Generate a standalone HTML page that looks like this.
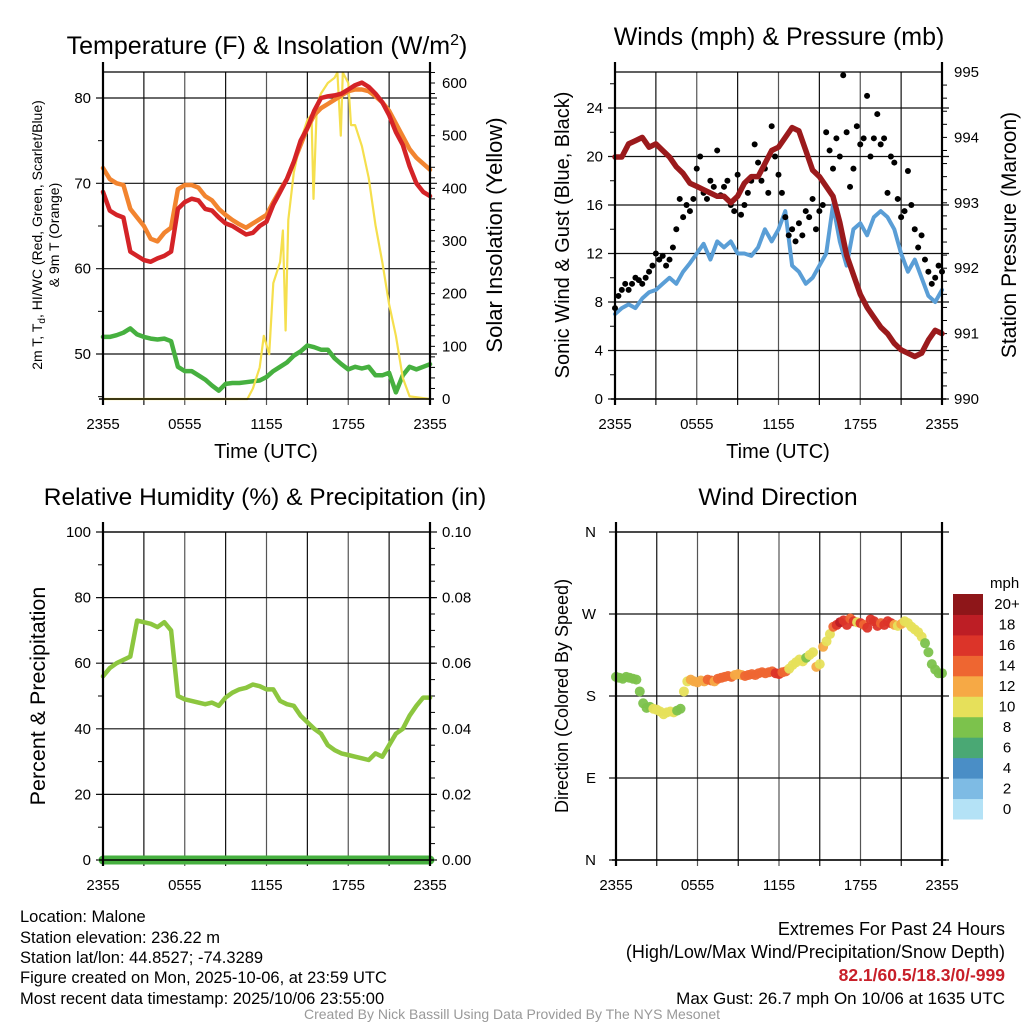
<!DOCTYPE html>
<html><head><meta charset="utf-8"><style>
html,body{margin:0;padding:0;background:#fff;}
svg{display:block;font-family:"Liberation Sans",sans-serif;}
</style></head><body>
<svg id="fig" width="1024" height="1024" viewBox="0 0 1024 1024">
<rect width="1024" height="1024" fill="#fff"/>
<text x="267" y="54" font-size="25" text-anchor="middle">Temperature (F) &amp; Insolation (W/m<tspan dy="-9" font-size="16">2</tspan><tspan dy="9">)</tspan></text>
<text x="779" y="45" font-size="25" text-anchor="middle">Winds (mph) &amp; Pressure (mb)</text>
<text x="265" y="505" font-size="24.5" text-anchor="middle">Relative Humidity (%) &amp; Precipitation (in)</text>
<text x="778" y="505" font-size="24.5" text-anchor="middle">Wind Direction</text>
<g font-size="14">
<text transform="translate(42,235) rotate(-90)" text-anchor="middle">2m T, T<tspan font-size="10" dy="3">d</tspan><tspan dy="-3">, HI/WC (Red, Green, Scarlet/Blue)</tspan></text>
<text transform="translate(59,235) rotate(-90)" text-anchor="middle">&amp; 9m T (Orange)</text>
</g>
<text transform="translate(502,235) rotate(-90)" font-size="22" text-anchor="middle">Solar Insolation (Yellow)</text>
<text transform="translate(569,235) rotate(-90)" font-size="20" text-anchor="middle">Sonic Wind &amp; Gust (Blue, Black)</text>
<text transform="translate(1016,235) rotate(-90)" font-size="21" text-anchor="middle">Station Pressure (Maroon)</text>
<text transform="translate(45,696) rotate(-90)" font-size="21.5" text-anchor="middle">Percent &amp; Precipitation</text>
<text transform="translate(568,696) rotate(-90)" font-size="18" text-anchor="middle">Direction (Colored By Speed)</text>
<text x="266" y="458" font-size="20" text-anchor="middle">Time (UTC)</text>
<text x="778" y="458" font-size="20" text-anchor="middle">Time (UTC)</text>
<g font-size="16.5">
<text x="20" y="922">Location: Malone</text>
<text x="20" y="943">Station elevation: 236.22 m</text>
<text x="20" y="963">Station lat/lon: 44.8527; -74.3289</text>
<text x="20" y="983">Figure created on Mon, 2025-10-06, at 23:59 UTC</text>
<text x="20" y="1004">Most recent data timestamp: 2025/10/06 23:55:00</text>
</g>
<g font-size="18" text-anchor="end">
<text x="1005" y="935">Extremes For Past 24 Hours</text>
<text x="1005" y="958">(High/Low/Max Wind/Precipitation/Snow Depth)</text>
<text x="1005" y="981" fill="#c8202a" font-weight="bold" font-size="17.5">82.1/60.5/18.3/0/-999</text>
<text x="1005" y="1004" font-size="17">Max Gust: 26.7 mph On 10/06 at 1635 UTC</text>
</g>
<text x="512" y="1019" font-size="14" fill="#999" text-anchor="middle">Created By Nick Bassill Using Data Provided By The NYS Mesonet</text>
</svg>
<script>
// ---- data ----
const xTickLabels = ["2355","0555","1155","1755","2355"];
const halfHours = Array.from({length:49},(_,i)=>i*0.5);
const quarterHours = Array.from({length:97},(_,i)=>i*0.25);
const tempAir = [69,66.8,66.3,66,62,61.5,61,60.8,61.2,61.5,62,67,67.8,68.2,68,67,66.8,66,65.3,65,64.5,64,64.2,65,65.5,67.5,69,70.5,72.5,75,76.5,78.5,80,80.2,80.3,80.5,81,81.5,81.8,81.3,80.5,79.5,78,76,74.5,72,70,69,68.5];
const temp9m = [71.8,70.5,70,69.8,67,66,65,63.5,63.2,64.2,64.8,69.3,69.8,69.8,69.5,68.5,68,67,66.3,65.7,65.2,64.8,65.3,65.8,66.3,67.8,69.2,70.5,72.5,74.5,76.5,78,78.8,79.3,79.8,80.3,80.8,81,81,80.8,80.2,79.5,78.5,77,75.5,74,73,72.3,71.6];
const dewPoint = [52,52,52.2,52.5,53,52.3,52,51.8,51.7,51.8,51.5,48.5,48,48,47.5,47,46.3,45.7,46.5,46.6,46.6,46.7,46.8,46.9,47.3,48,48.5,49,49.8,50.3,51,50.8,50.5,50.5,49.5,48.8,48.2,48.5,48.3,48.5,47.5,47.5,47.8,45.5,47.5,48.5,48.2,48.5,48.8];
const solarHours = [0,10.6,11,11.5,11.8,12.2,12.5,13,13.2,13.4,13.6,14,14.5,15,15.3,15.45,15.7,16,16.5,17,17.2,17.45,17.6,18,18.2,18.5,19,19.5,20,20.5,21,21.5,22,22.5,24];
const solarValues = [0,0,20,60,120,85,220,260,320,130,340,430,490,530,540,380,560,580,600,610,620,500,620,600,520,520,480,420,330,260,180,120,40,5,0];
const windSpeed = [7,7.5,7.8,7.5,8.3,8.8,9,9.5,10,9.5,10.5,11.2,12,12.8,11.5,13,12.5,13,12,12,11.8,12.5,14,13,14,15.5,11,10.5,9.5,10,11,12,16,13,11,14,14.5,13.5,15,15.5,15,14,12,10.5,11.5,10,8.5,8,9];
const windGust = [7.5,8.5,9,9.5,9,9.5,10,9.8, 9.5,10,10.5,11,12,11.5,11.8,11, 11.5,12.5,14,16.5,15,16,15.5,16.5, 19,20,17,16.5,18,17.5,20.5,16.8, 17.5,18,16,15.5,18.5,15.2,16,17, 18,21,19.5,18,19,17,22.5,20, 18.5,17,15,13.5,14,13,14.5,13.5, 15.5,15,16.5,14,15.5,16,22,20.5, 19,21.5,20,26.7,22,17.5,19,22.5, 21,21.5,25,20,21.5,23.5,21,21.5, 17,20,19.5,16.5,15,15.5,18.8,16, 14,12.5,13.5,11.5,10.5,9.5,10,11, 10.5];
const pressure = [993.7,993.7,993.9,993.95,994,993.85,993.9,993.8,993.7,993.55,993.45,993.3,993.25,993.2,993.15,993.1,993.1,993,993.1,993.3,993.4,993.4,993.6,993.8,993.85,994,994.15,994.1,993.8,993.5,993.4,993.25,993.1,992.7,992.2,991.9,991.6,991.4,991.25,991.1,991,990.85,990.75,990.7,990.65,990.7,990.9,991.05,991];
const relHum = [56,58.5,60,61,62,73,72.5,72,71,72.5,70,50,49,48.5,48,47.5,48,47,49.5,51,52,52.5,53.5,53,52,52,48.5,47.5,47,44,42,40,38.5,35,33.5,32.5,32,31.5,31,30.5,32.5,31.5,35,38.5,40,44,47,49.5,49.5];
const precip = Array(49).fill(0);
const windDir = [201,200,199,201,200,199,198,185, 172,167,168,166,165,163,160,162, 163,162,164,166,185,196,198,196, 195,197,196,198,197,196,199,200, 201,202,201,203,204,203,202,203, 204,203,205,206,205,206,207,205, 204,206,207,210,214,217,220,218, 222,225,228,212,215,234,240,248, 256,258,261,263,258,265,262,261, 260,258,255,264,262,257,260,258, 262,260,258,257,259,262,260,256, 253,250,245,238,228,215,209,205, 205];
const dirSpeed = [8,8,8,8,8,8,8,8, 8,8,8,10,10,10,10,10, 10,10,9,9,11,11,12,12, 13,13,13,14,14,13,14,14, 14,14,14,13,13,13,14,14, 14,15,15,14,14,15,15,16, 16,15,14,11,11,11,10,10, 9,11,11,12,11,13,11,10, 15,17,19,16,17,15,16,11, 16,15,17,16,17,16,15,16, 17,16,12,11,12,11,11,10, 10,11,10,8,8,8,8,8, 8];
const speedBinLabels = ["0","2","4","6","8","10","12","14","16","18","20+"];
const speedBinColors = ["#b4e2f6","#7ebbe4","#4a8ec6","#4aa874","#7cc24c","#e6e05a","#f6a945","#ee6631","#dc3429","#bd1e25","#8e1619"];

// ---- drawing ----
const NS="http://www.w3.org/2000/svg";
const svg=document.getElementById('fig');
function el(tag,attrs,parent){const e=document.createElementNS(NS,tag);for(const k in attrs)e.setAttribute(k,attrs[k]);(parent||svg).appendChild(e);return e;}
function lin(d0,d1,r0,r1){return v=>r0+(v-d0)*(r1-r0)/(d1-d0);}

function panel(name){
  const g=el('g',{});
  
  
  return g;
}
function grid(g,L,R,T,B,yMajors,yScale){
  const x=lin(0,24,L,R);
  for(let h=3;h<24;h+=3){
    const ln=el('line',{x1:x(h),x2:x(h),y1:T,y2:B+6,stroke:(h%6==0)?'#555':'#111','stroke-width':1.2},g);
    
    
  }
  yMajors.forEach(v=>{
    const ln=el('line',{x1:L-7,x2:R+7,y1:yScale(v),y2:yScale(v),stroke:'#111','stroke-width':1.2},g);
    
    
  });
}
function frame(g,L,R,T,B){
  el('line',{x1:L,x2:L,y1:T-10,y2:B+6,stroke:'#000','stroke-width':2.2},g);
  el('line',{x1:R,x2:R,y1:T-10,y2:B+6,stroke:'#000','stroke-width':2.2},g);
  el('line',{x1:L,x2:R,y1:T,y2:T,stroke:'#000','stroke-width':1.2},g);
  el('line',{x1:L-4,x2:R+4,y1:B,y2:B,stroke:'#000','stroke-width':1.4},g);
}
function xLabels(g,L,R,B){
  const x=lin(0,24,L,R);
  xTickLabels.forEach((t,i)=>{
    const tx=el('text',{x:x(i*6),y:B+30,'font-size':15,'text-anchor':'middle'},g);
    tx.textContent=t;
    
    
  });
}
function yTicks(g,side,pos,vals,scale,minors,fmt){
  vals.forEach(v=>{
    const tx=el('text',{x:side=='left'?pos-12:pos+12,y:scale(v)+5,'font-size':15,'text-anchor':side=='left'?'end':'start'},g);
    tx.textContent=fmt(v);
    
    
  });
  minors.forEach(v=>{
    el('line',{x1:side=='left'?pos-5:pos,x2:side=='left'?pos:pos+5,y1:scale(v),y2:scale(v),stroke:'#000','stroke-width':1},g);
  });
}
function pathLine(g,xs,ys,xS,yS,color,w,name){
  const d=xs.map((h,i)=>(i?'L':'M')+xS(h).toFixed(1)+','+yS(ys[i]).toFixed(1)).join('');
  const p=el('path',{d:d,fill:'none',stroke:color,'stroke-width':w,'stroke-linejoin':'round','stroke-linecap':'round'},g);
  
  
  return p;
}
function range(a,b,s){const r=[];for(let v=a;v<=b+1e-9;v+=s)r.push(+v.toFixed(4));return r;}

// Panel 1
(function(){
  const L=103,R=430,T=72,B=399;
  const g=panel('temperature-panel');
  const x=lin(0,24,L,R), y=lin(50,80,354,98), y2=lin(0,600,399,83);
  grid(g,L,R,T,B,[50,60,70,80],y);
  yTicks(g,'left',L,[50,60,70,80],y,[45,55,65,75],v=>v);
  yTicks(g,'right',R,[0,100,200,300,400,500,600],y2,range(20,620,20),v=>v);
  pathLine(g,halfHours,dewPoint,x,y,'#46b03f',4.5,'dewpoint-line');
  pathLine(g,solarHours,solarValues,x,y2,'#f5df4d',2.2,'solar-line');
  pathLine(g,halfHours,temp9m,x,y,'#f2842f',4.5,'temp-9m-line');
  pathLine(g,halfHours,tempAir,x,y,'#d42327',4.5,'temp-2m-line');
  frame(g,L,R,T,B); xLabels(g,L,R,B);
})();

// Panel 2
(function(){
  const L=615,R=942,T=72,B=399;
  const g=panel('winds-panel');
  const x=lin(0,24,L,R), y=lin(0,24,399,108), y2=lin(990,995,399,72);
  grid(g,L,R,T,B,[0,4,8,12,16,20,24],y);
  yTicks(g,'left',L,[0,4,8,12,16,20,24],y,range(2,26,4),v=>v);
  yTicks(g,'right',R,[990,991,992,993,994,995],y2,range(990.2,994.8,0.2),v=>v);
  pathLine(g,halfHours,windSpeed,x,y,'#5a9ed6',4,'wind-speed-line');
  windGust.forEach((v,i)=>{
    const c=el('circle',{cx:x(quarterHours[i]),cy:y(v),r:3,fill:'#000'},g);
    
    
  });
  pathLine(g,halfHours,pressure,x,y2,'#9b1a1c',5.5,'pressure-line');
  frame(g,L,R,T,B); xLabels(g,L,R,B);
})();

// Panel 3
(function(){
  const L=103,R=430,T=532,B=860;
  const g=panel('humidity-panel');
  const x=lin(0,24,L,R), y=lin(0,100,860,532), y2=lin(0,0.1,860,532);
  grid(g,L,R,T,B,[0,20,40,60,80,100],y);
  yTicks(g,'left',L,[0,20,40,60,80,100],y,range(10,90,20),v=>v);
  yTicks(g,'right',R,[0,0.02,0.04,0.06,0.08,0.1],y2,range(0.005,0.095,0.005),v=>v.toFixed(2));
  pathLine(g,halfHours,relHum,x,y,'#8cc63f',4.5,'rh-line');
  pathLine(g,halfHours,precip,x,y2,'#46b03f',9,'precip-line');
  frame(g,L,R,T,B); xLabels(g,L,R,B);
})();

// Panel 4
(function(){
  const L=616,R=942,T=532,B=860;
  const g=panel('wind-direction-panel');
  const x=lin(0,24,L,R), y=lin(0,360,860,532);
  grid(g,L,R,T,B,[0,90,180,270,360],y);
  const dl=["N","E","S","W","N"];
  [0,90,180,270,360].forEach((v,i)=>{
    const tx=el('text',{x:L-20,y:y(v)+5,'font-size':15,'text-anchor':'end'},g);
    tx.textContent=dl[i];
    
    
  });
  windDir.forEach((d,i)=>{
    const bin=Math.min(10,Math.floor(dirSpeed[i]/2));
    const c=el('circle',{cx:x(quarterHours[i]),cy:y(d),r:5,fill:speedBinColors[bin],'fill-opacity':0.95},g);
    
    
  });
  frame(g,L,R,T,B); xLabels(g,L,R,B);
  const cb=el('g',{});
  
  
  const t=el('text',{x:990,y:588,'font-size':15},cb); t.textContent='mph';
  const h=(819-594)/11;
  speedBinColors.forEach((c,i)=>{
    const top=819-(i+1)*h;
    const r=el('rect',{x:953,y:top,width:30,height:h+0.5,fill:c},cb);
    
    
    const tx=el('text',{x:1007,y:top+h/2+5,'font-size':15,'text-anchor':'middle'},cb);
    tx.textContent=speedBinLabels[i];
    
    
  });
})();
</script>
</body></html>
